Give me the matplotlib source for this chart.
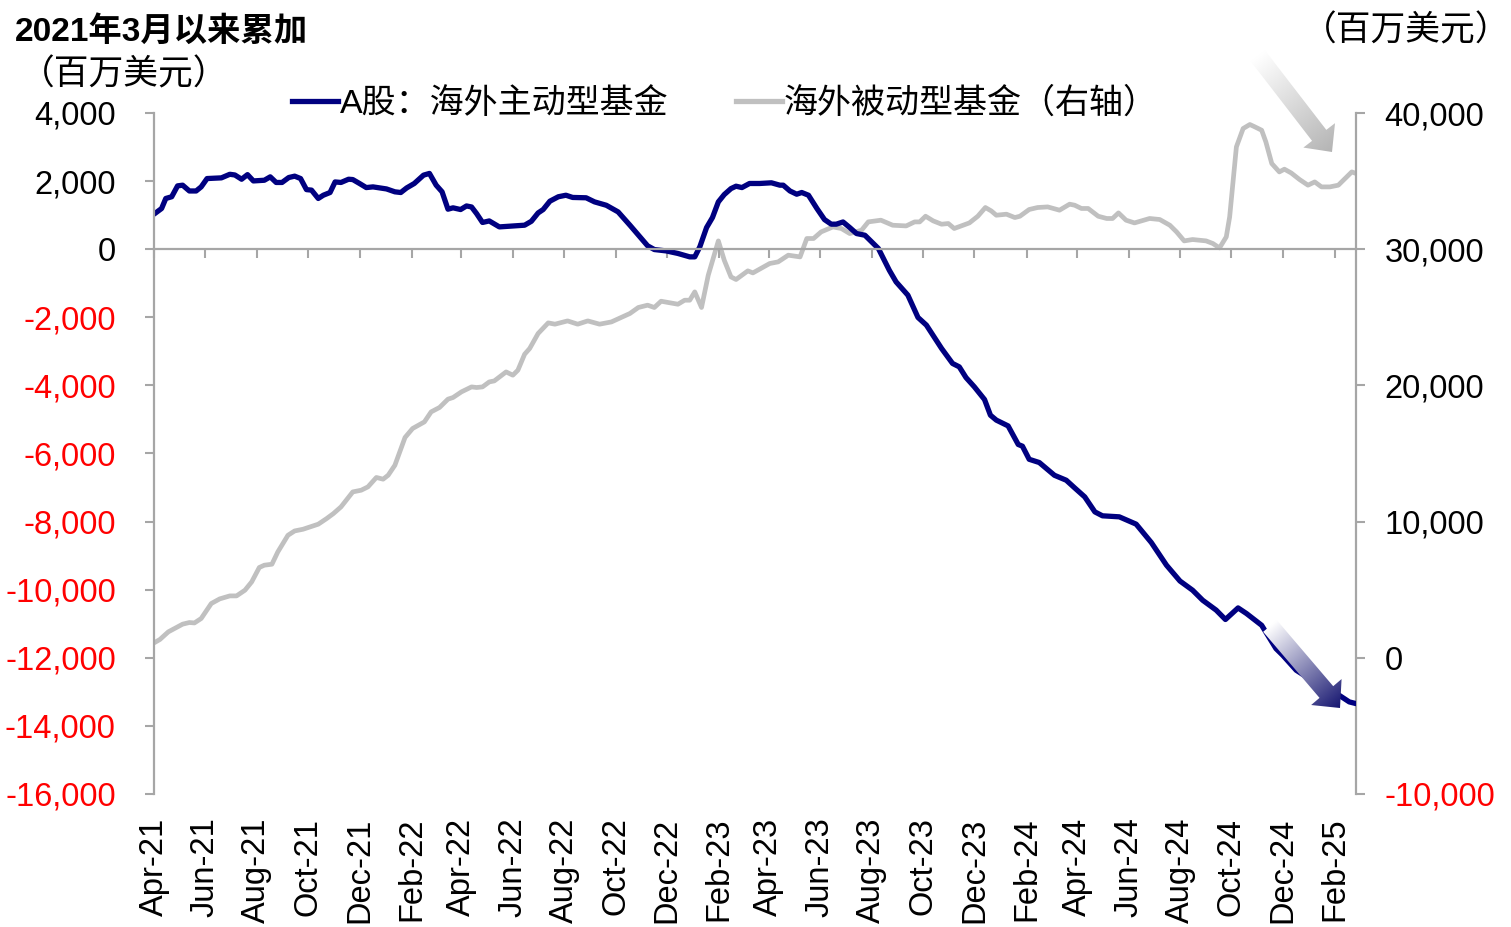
import numpy as np
import pandas as pd
import matplotlib
matplotlib.use("Agg")
import matplotlib.pyplot as plt
import matplotlib.dates as mdates
from matplotlib.patches import FancyArrow
from matplotlib.lines import Line2D
from matplotlib.colors import to_rgb

plt.rcParams['font.family'] = ['Liberation Sans', 'Noto Sans CJK SC']

# A股：海外主动型基金 (left axis, 百万美元)
active_dates = ['2021-04-01', '2021-04-10', '2021-04-15', '2021-04-22', '2021-04-29', '2021-05-05',
                '2021-05-13', '2021-05-21', '2021-05-27', '2021-06-03', '2021-06-20', '2021-06-30',
                '2021-07-06', '2021-07-14', '2021-07-21', '2021-07-28', '2021-08-10', '2021-08-17',
                '2021-08-24', '2021-08-31', '2021-09-08', '2021-09-15', '2021-09-22', '2021-09-29',
                '2021-10-05', '2021-10-13', '2021-10-19', '2021-10-27', '2021-11-02', '2021-11-09',
                '2021-11-18', '2021-11-23', '2021-12-01', '2021-12-09', '2021-12-17', '2022-01-02',
                '2022-01-12', '2022-01-19', '2022-01-26', '2022-02-04', '2022-02-15', '2022-02-22',
                '2022-03-02', '2022-03-09', '2022-03-16', '2022-03-22', '2022-03-31', '2022-04-07',
                '2022-04-13', '2022-04-19', '2022-04-26', '2022-05-04', '2022-05-16', '2022-05-28',
                '2022-06-15', '2022-06-23', '2022-07-01', '2022-07-07', '2022-07-15', '2022-07-25',
                '2022-08-03', '2022-08-11', '2022-08-27', '2022-09-06', '2022-09-20', '2022-10-04',
                '2022-10-18', '2022-10-30', '2022-11-08', '2022-11-16', '2022-11-30', '2022-12-14',
                '2022-12-28', '2023-01-03', '2023-01-09', '2023-01-17', '2023-01-24', '2023-01-31',
                '2023-02-07', '2023-02-15', '2023-02-21', '2023-02-28', '2023-03-09', '2023-03-21',
                '2023-04-04', '2023-04-14', '2023-04-18', '2023-04-26', '2023-05-04', '2023-05-10',
                '2023-05-18', '2023-05-28', '2023-06-06', '2023-06-14', '2023-06-20', '2023-06-28',
                '2023-07-06', '2023-07-14', '2023-07-24', '2023-08-01', '2023-08-09', '2023-08-14',
                '2023-08-22', '2023-08-30', '2023-09-13', '2023-09-25', '2023-10-05', '2023-10-23',
                '2023-11-05', '2023-11-13', '2023-11-21', '2023-12-01', '2023-12-13', '2023-12-20',
                '2023-12-27', '2024-01-10', '2024-01-22', '2024-01-27', '2024-02-04', '2024-02-16',
                '2024-03-05', '2024-03-19', '2024-03-29', '2024-04-10', '2024-04-22', '2024-05-01',
                '2024-05-21', '2024-06-10', '2024-06-28', '2024-07-16', '2024-08-01', '2024-08-16',
                '2024-08-28', '2024-09-13', '2024-09-24', '2024-10-09', '2024-10-19', '2024-11-06',
                '2024-11-23', '2024-12-01', '2024-12-17', '2025-01-02', '2025-01-20', '2025-02-06',
                '2025-02-18', '2025-02-26']
active_vals = [1030, 1195, 1490, 1540, 1860, 1880,
               1710, 1710, 1830, 2075, 2095, 2200,
               2180, 2055, 2190, 2005, 2025, 2125,
               1960, 1960, 2105, 2145, 2075, 1750,
               1735, 1490, 1585, 1665, 1975, 1960,
               2055, 2045, 1930, 1810, 1830, 1770,
               1685, 1665, 1800, 1930, 2175, 2225,
               1880, 1685, 1175, 1215, 1165, 1270,
               1240, 1045, 785, 830, 655, 675,
               705, 820, 1065, 1165, 1410, 1540,
               1585, 1520, 1510, 1390, 1290, 1095,
               705, 360, 100, -10, -50, -125,
               -225, -225, 70, 635, 930, 1390,
               1605, 1780, 1850, 1810, 1930, 1930,
               1950, 1880, 1880, 1710, 1615, 1665,
               1585, 1195, 870, 735, 735, 800,
               635, 460, 410, 215, 20, -225,
               -620, -960, -1350, -2005, -2230, -2915,
               -3355, -3455, -3770, -4045, -4415, -4875,
               -5020, -5190, -5735, -5785, -6170, -6265,
               -6640, -6785, -7010, -7275, -7715, -7830,
               -7860, -8075, -8615, -9280, -9745, -10015,
               -10310, -10600, -10875, -10535, -10700, -11045,
               -11730, -11925, -12365, -12620, -12880, -13100,
               -13295, -13345]

# 海外被动型基金 (right axis, 百万美元)
passive_dates = ['2021-04-01', '2021-04-08', '2021-04-18', '2021-05-05', '2021-05-13', '2021-05-19',
                 '2021-05-27', '2021-06-08', '2021-06-18', '2021-06-30', '2021-07-08', '2021-07-18',
                 '2021-07-26', '2021-08-04', '2021-08-10', '2021-08-19', '2021-08-26', '2021-09-07',
                 '2021-09-15', '2021-09-25', '2021-10-13', '2021-10-23', '2021-10-31', '2021-11-09',
                 '2021-11-23', '2021-12-03', '2021-12-11', '2021-12-21', '2021-12-29', '2022-01-04',
                 '2022-01-12', '2022-01-24', '2022-02-02', '2022-02-16', '2022-02-24', '2022-03-06',
                 '2022-03-16', '2022-03-22', '2022-04-01', '2022-04-13', '2022-04-19', '2022-04-26',
                 '2022-05-04', '2022-05-10', '2022-05-24', '2022-06-01', '2022-06-07', '2022-06-15',
                 '2022-06-21', '2022-07-01', '2022-07-13', '2022-07-21', '2022-08-05', '2022-08-17',
                 '2022-08-29', '2022-09-12', '2022-09-26', '2022-10-18', '2022-10-28', '2022-11-08',
                 '2022-11-16', '2022-11-24', '2022-12-14', '2022-12-22', '2022-12-28', '2023-01-03',
                 '2023-01-11', '2023-01-19', '2023-01-31', '2023-02-07', '2023-02-15', '2023-02-21',
                 '2023-03-07', '2023-03-13', '2023-04-02', '2023-04-12', '2023-04-24', '2023-05-08',
                 '2023-05-16', '2023-05-24', '2023-06-02', '2023-06-16', '2023-06-26', '2023-07-06',
                 '2023-07-20', '2023-07-28', '2023-08-12', '2023-08-26', '2023-09-11', '2023-09-21',
                 '2023-09-27', '2023-10-04', '2023-10-13', '2023-10-23', '2023-10-31', '2023-11-07',
                 '2023-11-25', '2023-12-05', '2023-12-14', '2023-12-21', '2023-12-27', '2024-01-08',
                 '2024-01-18', '2024-01-24', '2024-02-04', '2024-02-14', '2024-02-26', '2024-03-11',
                 '2024-03-23', '2024-03-29', '2024-04-06', '2024-04-14', '2024-04-26', '2024-05-06',
                 '2024-05-13', '2024-05-20', '2024-05-29', '2024-06-08', '2024-06-26', '2024-07-08',
                 '2024-07-20', '2024-07-28', '2024-08-06', '2024-08-16', '2024-09-01', '2024-09-09',
                 '2024-09-17', '2024-09-25', '2024-09-29', '2024-10-07', '2024-10-15', '2024-10-23',
                 '2024-10-29', '2024-11-06', '2024-11-11', '2024-11-18', '2024-11-27', '2024-12-03',
                 '2024-12-11', '2024-12-21', '2024-12-31', '2025-01-08', '2025-01-16', '2025-01-26',
                 '2025-02-05', '2025-02-13', '2025-02-21', '2025-02-26']
passive_vals = [1095, 1345, 1905, 2470, 2590, 2560,
                2885, 3985, 4325, 4545, 4545, 4965,
                5575, 6630, 6800, 6870, 7775, 8995,
                9315, 9440, 9810, 10225, 10590, 11080,
                12180, 12305, 12550, 13240, 13115, 13405,
                14140, 16175, 16835, 17320, 18055, 18380,
                18990, 19110, 19525, 19890, 19845, 19890,
                20255, 20330, 20990, 20750, 21115, 22290,
                22710, 23810, 24590, 24495, 24735, 24495,
                24735, 24495, 24660, 25280, 25720, 25890,
                25720, 26180, 25960, 26255, 26255, 26865,
                25720, 28090, 30610, 29190, 27965, 27775,
                28410, 28260, 28950, 29070, 29560, 29435,
                30785, 30785, 31270, 31635, 31520, 31150,
                31395, 32005, 32130, 31760, 31710, 32005,
                32005, 32420, 32080, 31835, 31885, 31520,
                31930, 32420, 33060, 32810, 32495, 32570,
                32325, 32420, 32915, 33060, 33105, 32865,
                33305, 33230, 32990, 32990, 32420, 32255,
                32255, 32665, 32130, 31930, 32255, 32180,
                31760, 31270, 30610, 30710, 30610, 30420,
                30095, 30905, 32370, 37510, 38860, 39155,
                38980, 38735, 37875, 36290, 35675, 35875,
                35600, 35115, 34700, 34940, 34575, 34575,
                34700, 35190, 35675, 35560]

left_ticks = list(range(-16000, 4001, 2000))
right_ticks = list(range(-10000, 40001, 10000))
x_start, x_end = '2021-04-01', '2025-02-26'

NAVY = '#000080'
LIGHT = '#C0C0C0'
AXIS = '#A6A6A6'
FS = 23.5

fig = plt.figure(figsize=(15.11, 9.27), dpi=100)
pos = [154 / 1511, 1 - 794 / 927, (1356 - 154) / 1511, (794 - 113) / 927]

ax = fig.add_axes(pos)
ax2 = ax.twinx()
lab = fig.add_axes(pos, sharex=ax, frameon=False)

ax2.plot(pd.to_datetime(passive_dates), passive_vals, color=LIGHT, lw=3.4,
         solid_joinstyle='round', solid_capstyle='round')
ax.plot(pd.to_datetime(active_dates), active_vals, color=NAVY, lw=3.8,
        solid_joinstyle='round', solid_capstyle='round')
ax.set_zorder(ax2.get_zorder() + 1)
ax.patch.set_visible(False)

ax.set_xlim(pd.Timestamp(x_start), pd.Timestamp(x_end))
ax.xaxis.set_major_locator(mdates.MonthLocator(bymonth=[2, 4, 6, 8, 10, 12]))
ax.xaxis.set_major_formatter(mdates.DateFormatter('%b-%y'))

# left axis
ax.set_ylim(-16000, 4000)
ax.set_yticks(left_ticks, [f'{v:,}' for v in left_ticks])
for t, v in zip(ax.get_yticklabels(), left_ticks):
    t.set_color('red' if v < 0 else 'black')
ax.spines['bottom'].set_position(('data', 0))
for s in ['top', 'right']:
    ax.spines[s].set_visible(False)
for s in ['left', 'bottom']:
    ax.spines[s].set_color(AXIS)
    ax.spines[s].set_linewidth(1.6)
ax.tick_params(axis='y', direction='out', length=6.5, width=1.5, color=AXIS,
               labelsize=FS, pad=21)
ax.tick_params(axis='x', direction='out', length=6.5, width=1.5, color=AXIS,
               labelbottom=False)

# right axis
ax2.set_ylim(-10000, 40000)
ax2.set_yticks(right_ticks, [f'{v:,}' for v in right_ticks])
for t, v in zip(ax2.get_yticklabels(), right_ticks):
    t.set_color('red' if v < 0 else 'black')
for s in ['top', 'left', 'bottom']:
    ax2.spines[s].set_visible(False)
ax2.spines['right'].set_color(AXIS)
ax2.spines['right'].set_linewidth(1.6)
ax2.tick_params(axis='y', direction='out', length=6.5, width=1.5, color=AXIS,
                labelsize=FS, pad=14)

# date labels along the bottom
lab.set_yticks([])
lab.patch.set_visible(False)
lab.tick_params(axis='x', length=0, pad=17, labelsize=FS, labelrotation=90)

# texts
fig.text(15 / 1511, 1 - 32 / 927, '2021年3月以来累加', fontsize=24, fontweight='bold',
         va='center', ha='left')
fig.text(20 / 1511, 1 - 75 / 927, '（百万美元）', fontsize=25, va='center', ha='left')
fig.text(1510 / 1511, 1 - 31 / 927, '（百万美元）', fontsize=25, va='center', ha='right')

handles = [Line2D([], [], color=NAVY, lw=3.8), Line2D([], [], color=LIGHT, lw=3.8)]
fig.legend(handles, ['A股：海外主动型基金', '海外被动型基金（右轴）'], loc='center',
           bbox_to_anchor=(725 / 1511, 1 - 104 / 927), ncol=2, frameon=False, fontsize=24.5,
           handlelength=1.35, handletextpad=0.05, columnspacing=2.0, borderpad=0)

# gradient arrows (pixel-like overlay, y down)
ov = fig.add_axes([0, 0, 1, 1], zorder=10)
ov.axis('off')


def grad_arrow(tail, tip, color, shaft=18, head_w=40, head_l=21):
    (x0, y0), (x1, y1) = tail, tip
    dx, dy = x1 - x0, y1 - y0
    arr = FancyArrow(x0, y0, dx, dy, width=shaft, head_width=head_w, head_length=head_l,
                     length_includes_head=True, facecolor='none', edgecolor='none')
    ov.add_patch(arr)
    xs = np.linspace(min(x0, x1) - head_w, max(x0, x1) + head_w, 300)
    ys = np.linspace(min(y0, y1) - head_w, max(y0, y1) + head_w, 300)
    X, Y = np.meshgrid(xs, ys)
    t = np.clip(((X - x0) * dx + (Y - y0) * dy) / (dx * dx + dy * dy), 0, 1)[..., None]
    img = (1 - t) * np.ones(3) + t * np.array(to_rgb(color))
    im = ov.imshow(img, extent=(xs[0], xs[-1], ys[-1], ys[0]), origin='upper',
                   aspect='auto', interpolation='bilinear')
    im.set_clip_path(arr)


grad_arrow((1258, 56), (1332, 152), '#B4B4B4')
grad_arrow((1270, 626), (1340, 708), '#161670')
ov.set_xlim(0, 1511)
ov.set_ylim(927, 0)

fig.savefig('out.png', dpi=100)
